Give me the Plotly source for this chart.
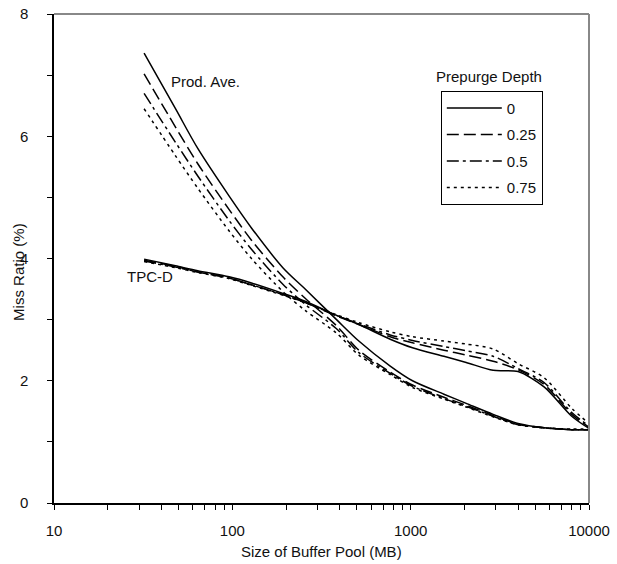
import plotly.graph_objects as go

# Buffer pool sizes (MB)
sizes = [32, 48, 64, 96, 128, 192, 256, 384, 512, 768, 1024, 1536, 2048, 2900, 4000, 5600, 8000, 10000]

depth_labels = ["0", "0.25", "0.5", "0.75"]

# Prod. Ave. miss ratio (%) per prepurge depth
prod_0 = [7.36, 6.45, 5.80, 5.02, 4.50, 3.85, 3.50, 3.00, 2.65, 2.24, 2.00, 1.78, 1.63, 1.45, 1.30, 1.23, 1.20, 1.20]
prod_25 = [7.02, 6.15, 5.55, 4.80, 4.30, 3.70, 3.35, 2.90, 2.50, 2.14, 1.93, 1.73, 1.60, 1.43, 1.29, 1.23, 1.20, 1.20]
prod_50 = [6.70, 5.90, 5.35, 4.62, 4.15, 3.58, 3.25, 2.85, 2.46, 2.12, 1.91, 1.71, 1.58, 1.42, 1.28, 1.23, 1.20, 1.20]
prod_75 = [6.45, 5.68, 5.15, 4.45, 4.00, 3.46, 3.15, 2.78, 2.42, 2.10, 1.89, 1.70, 1.57, 1.41, 1.28, 1.23, 1.21, 1.21]

# TPC-D miss ratio (%) per prepurge depth
tpcd_0 = [3.99, 3.88, 3.80, 3.70, 3.60, 3.43, 3.30, 3.07, 2.92, 2.68, 2.54, 2.40, 2.30, 2.17, 2.15, 1.90, 1.42, 1.22]
tpcd_25 = [3.97, 3.87, 3.78, 3.68, 3.57, 3.41, 3.28, 3.06, 2.92, 2.72, 2.62, 2.50, 2.42, 2.32, 2.18, 1.94, 1.45, 1.24]
tpcd_50 = [3.96, 3.86, 3.78, 3.68, 3.57, 3.41, 3.28, 3.07, 2.93, 2.75, 2.66, 2.56, 2.49, 2.40, 2.20, 1.97, 1.48, 1.26]
tpcd_75 = [3.95, 3.85, 3.77, 3.67, 3.56, 3.40, 3.28, 3.08, 2.95, 2.80, 2.72, 2.65, 2.60, 2.52, 2.28, 2.05, 1.55, 1.30]

prod_series = [prod_0, prod_25, prod_50, prod_75]
tpcd_series = [tpcd_0, tpcd_25, tpcd_50, tpcd_75]

x_tickvals = [10, 20, 30, 40, 50, 60, 70, 80, 90,
              100, 200, 300, 400, 500, 600, 700, 800, 900,
              1000, 2000, 3000, 4000, 5000, 6000, 7000, 8000, 9000, 10000]
x_ticktext = [str(v) if v in (10, 100, 1000, 10000) else "" for v in x_tickvals]
y_tickvals = [0, 1, 2, 3, 4, 5, 6, 7, 8]
y_ticktext = [str(v) if v % 2 == 0 else "" for v in y_tickvals]

dashes = ["solid", "12px,5px", "12px,4px,3px,4px", "3px,4px"]

FONT = "Liberation Sans Narrow, Arial Narrow, Liberation Sans, Arial, sans-serif"
FS = 15

fig = go.Figure()
for i, lab in enumerate(depth_labels):
    fig.add_trace(go.Scatter(
        x=sizes, y=prod_series[i], mode="lines", name=lab,
        legendgroup="d" + lab, showlegend=True,
        line=dict(color="black", width=1.5, dash=dashes[i], shape="spline", smoothing=0.8),
    ))
    fig.add_trace(go.Scatter(
        x=sizes, y=tpcd_series[i], mode="lines", name=lab,
        legendgroup="d" + lab, showlegend=False,
        line=dict(color="black", width=1.5, dash=dashes[i], shape="spline", smoothing=0.8),
    ))

fig.update_layout(
    width=617, height=564,
    margin=dict(l=54, r=28, t=14, b=61, autoexpand=False),
    paper_bgcolor="white", plot_bgcolor="white",
    font=dict(family=FONT, size=FS, color="#111111"),
    showlegend=True,
    legend=dict(
        x=0.723, y=0.843, xanchor="left", yanchor="top",
        bordercolor="black", borderwidth=1, bgcolor="white",
        font=dict(family=FONT, size=FS, color="#111111"),
        itemwidth=55, tracegroupgap=4,
    ),
    xaxis=dict(
        type="log", range=[1, 4], automargin=False,
        showline=True, linecolor="black", linewidth=1.5,
        showgrid=False, zeroline=False,
        ticks="outside", ticklen=5, tickwidth=1, tickcolor="black",
        tickvals=x_tickvals, ticktext=x_ticktext,
        ticklabelstandoff=8,
    ),
    yaxis=dict(
        range=[0, 8], automargin=False,
        showline=True, linecolor="black", linewidth=1.5,
        showgrid=False, zeroline=False,
        ticks="outside", ticklen=5, tickwidth=1, tickcolor="black",
        tickvals=y_tickvals, ticktext=y_ticktext,
        ticklabelstandoff=16,
    ),
    shapes=[
        dict(type="line", xref="paper", yref="paper", x0=0, x1=1, y0=1, y1=1,
             line=dict(color="#888888", width=2)),
        dict(type="line", xref="paper", yref="paper", x0=1, x1=1, y0=0, y1=1,
             line=dict(color="#888888", width=2)),
    ],
    annotations=[
        dict(text="Miss Ratio (%)", xref="paper", yref="paper", x=-0.066, y=0.472,
             textangle=-90, showarrow=False, xanchor="center", yanchor="middle",
             font=dict(family=FONT, size=FS)),
        dict(text="Size of Buffer Pool (MB)", xref="paper", yref="paper", x=0.5, y=-0.0995,
             showarrow=False, xanchor="center", yanchor="middle",
             font=dict(family=FONT, size=FS)),
        dict(text="Prepurge Depth", xref="paper", yref="paper", x=0.813, y=0.873,
             showarrow=False, xanchor="center", yanchor="middle",
             font=dict(family=FONT, size=FS)),
        dict(text="Prod. Ave.", x=1.645, y=6.9, xref="x", yref="y",
             showarrow=False, xanchor="left", yanchor="middle",
             font=dict(family=FONT, size=FS)),
        dict(text="TPC-D", x=1.398, y=3.71, xref="x", yref="y",
             showarrow=False, xanchor="left", yanchor="middle",
             font=dict(family=FONT, size=FS)),
    ],
)

fig.write_html("out.html")
